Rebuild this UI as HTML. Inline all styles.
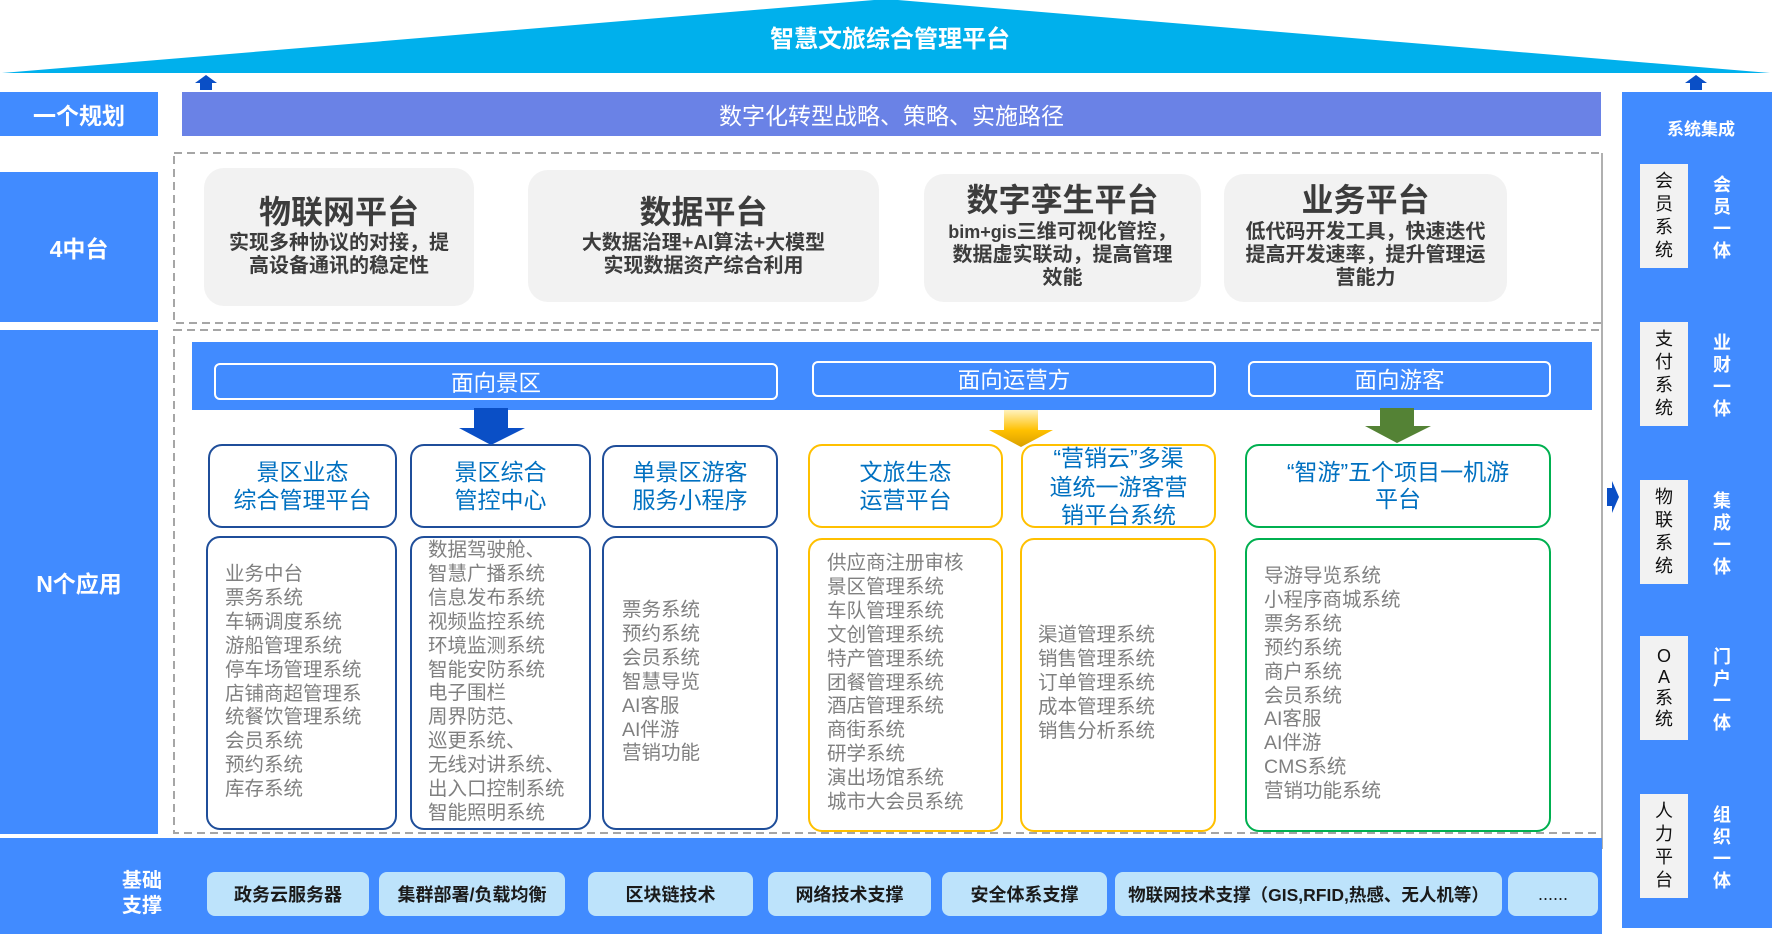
<!DOCTYPE html>
<html><head><meta charset="utf-8">
<style>
*{margin:0;padding:0;box-sizing:border-box}
body{width:1772px;height:934px;position:relative;overflow:hidden;background:#fff;font-family:"Liberation Sans","Noto Sans CJK SC",sans-serif}
.a{position:absolute}
.c{text-align:center;white-space:nowrap}
.lbl{background:#418BFF;color:#fff;font-weight:bold;font-size:23px;display:flex;align-items:center;justify-content:center}
.card{background:#F2F2F2;border-radius:20px}
.ct{color:#3C3C3C;font-weight:bold;font-size:32px;line-height:40px}
.cs{color:#3C3C3C;font-weight:bold;font-size:20px;line-height:23px}
.hb{border:2px solid #fff;border-radius:6px;color:#fff;font-size:22.5px;display:flex;align-items:center;justify-content:center}
.bx{background:#fff;border-radius:14px;border:2px solid #1F4E9A}
.by{border-color:#FFC000}
.bg{border-color:#00B050}
.tt{color:#0070C0;font-size:23px;line-height:28px;text-align:center;white-space:nowrap}
.ls{color:#808080;font-size:19.5px;line-height:23.9px;white-space:nowrap}
.btn{background:#BDE3FB;border-radius:8px;color:#1A1A1A;font-weight:bold;font-size:18px;display:flex;align-items:center;justify-content:center;white-space:nowrap;top:872px;height:44px}
.sb{background:#F2F2F2;left:1640px;width:48px;height:104px;color:#111;font-size:18px;line-height:23px;display:flex;align-items:center;justify-content:center;text-align:center}
.sw{left:1702px;width:40px;height:104px;color:#fff;font-weight:bold;font-size:18px;line-height:22px;display:flex;align-items:center;justify-content:center;text-align:center}
</style></head><body>

<svg class="a" style="left:0;top:0" width="1772" height="934">
<polygon points="2,73 886,-1 1770,73" fill="#00B0EC"/>
<rect x="174" y="153" width="1428" height="170" fill="none" stroke="#A6A6A6" stroke-width="2" stroke-dasharray="8 5"/>
<rect x="174" y="330" width="1428" height="503" fill="none" stroke="#A6A6A6" stroke-width="2" stroke-dasharray="8 5"/>
<line x1="1602" y1="153" x2="1602" y2="849" stroke="#B0B0B0" stroke-width="2"/>
</svg>

<div class="a c" style="left:690px;top:25px;width:400px;line-height:30px;color:#fff;font-weight:bold;font-size:24px">智慧文旅综合管理平台</div>

<div class="a lbl" style="left:0;top:92px;width:158px;height:44px">一个规划</div>
<div class="a lbl" style="left:0;top:172px;width:158px;height:150px">4中台</div>
<div class="a lbl" style="left:0;top:330px;width:158px;height:504px">N个应用</div>

<div class="a" style="left:182px;top:92px;width:1419px;height:44px;background:#6A82E6;color:#fff;font-size:23px;display:flex;align-items:center;justify-content:center">数字化转型战略、策略、实施路径</div>

<!-- cards -->
<div class="a card" style="left:204px;top:168px;width:270px;height:138px"></div>
<div class="a c ct" style="left:204px;top:192px;width:270px">物联网平台</div>
<div class="a c cs" style="left:204px;top:232px;width:270px">实现多种协议的对接，提<br>高设备通讯的稳定性</div>

<div class="a card" style="left:528px;top:170px;width:351px;height:132px"></div>
<div class="a c ct" style="left:528px;top:192px;width:351px">数据平台</div>
<div class="a c cs" style="left:528px;top:232px;width:351px">大数据治理+AI算法+大模型<br>实现数据资产综合利用</div>

<div class="a card" style="left:924px;top:174px;width:277px;height:128px"></div>
<div class="a c ct" style="left:924px;top:180px;width:277px">数字孪生平台</div>
<div class="a c cs" style="left:924px;top:221px;width:277px"><span style="font-size:18px">bim+gis</span>三维可视化管控，<br>数据虚实联动，提高管理<br>效能</div>

<div class="a card" style="left:1224px;top:174px;width:283px;height:128px"></div>
<div class="a c ct" style="left:1224px;top:180px;width:283px">业务平台</div>
<div class="a c cs" style="left:1224px;top:221px;width:283px">低代码开发工具，快速迭代<br>提高开发速率，提升管理运<br>营能力</div>

<!-- band -->
<div class="a" style="left:192px;top:342px;width:1400px;height:68px;background:#418BFF"></div>
<div class="a hb" style="left:214px;top:363px;width:564px;height:37px">面向景区</div>
<div class="a hb" style="left:812px;top:361px;width:404px;height:36px">面向运营方</div>
<div class="a hb" style="left:1248px;top:361px;width:303px;height:36px">面向游客</div>

<!-- title boxes -->
<div class="a bx" style="left:208px;top:444px;width:189px;height:84px"></div>
<div class="a tt" style="left:208px;top:458px;width:189px">景区业态<br>综合管理平台</div>
<div class="a bx" style="left:410px;top:444px;width:181px;height:84px"></div>
<div class="a tt" style="left:410px;top:458px;width:181px">景区综合<br>管控中心</div>
<div class="a bx" style="left:602px;top:445px;width:176px;height:83px"></div>
<div class="a tt" style="left:602px;top:458px;width:176px">单景区游客<br>服务小程序</div>
<div class="a bx by" style="left:808px;top:444px;width:195px;height:84px"></div>
<div class="a tt" style="left:808px;top:458px;width:195px">文旅生态<br>运营平台</div>
<div class="a bx by" style="left:1021px;top:444px;width:195px;height:84px"></div>
<div class="a tt" style="left:1021px;top:444px;width:195px;line-height:28.5px">“营销云”多渠<br>道统一游客营<br>销平台系统</div>
<div class="a bx bg" style="left:1245px;top:444px;width:306px;height:84px"></div>
<div class="a tt" style="left:1245px;top:459px;width:306px;line-height:27px">“智游”五个项目一机游<br>平台</div>

<!-- list boxes -->
<div class="a bx" style="left:206px;top:536px;width:191px;height:294px"></div>
<div class="a ls" style="left:225px;top:563px">业务中台<br>票务系统<br>车辆调度系统<br>游船管理系统<br>停车场管理系统<br>店铺商超管理系<br>统餐饮管理系统<br>会员系统<br>预约系统<br>库存系统</div>
<div class="a bx" style="left:410px;top:536px;width:181px;height:294px"></div>
<div class="a ls" style="left:428px;top:539px">数据驾驶舱、<br>智慧广播系统<br>信息发布系统<br>视频监控系统<br>环境监测系统<br>智能安防系统<br>电子围栏<br>周界防范、<br>巡更系统、<br>无线对讲系统、<br>出入口控制系统<br>智能照明系统</div>
<div class="a bx" style="left:602px;top:536px;width:176px;height:294px"></div>
<div class="a ls" style="left:622px;top:599px">票务系统<br>预约系统<br>会员系统<br>智慧导览<br>AI客服<br>AI伴游<br>营销功能</div>
<div class="a bx by" style="left:808px;top:538px;width:195px;height:294px"></div>
<div class="a ls" style="left:827px;top:552px">供应商注册审核<br>景区管理系统<br>车队管理系统<br>文创管理系统<br>特产管理系统<br>团餐管理系统<br>酒店管理系统<br>商街系统<br>研学系统<br>演出场馆系统<br>城市大会员系统</div>
<div class="a bx by" style="left:1020px;top:538px;width:196px;height:294px"></div>
<div class="a ls" style="left:1038px;top:624px">渠道管理系统<br>销售管理系统<br>订单管理系统<br>成本管理系统<br>销售分析系统</div>
<div class="a bx bg" style="left:1245px;top:538px;width:306px;height:294px"></div>
<div class="a ls" style="left:1264px;top:565px">导游导览系统<br>小程序商城系统<br>票务系统<br>预约系统<br>商户系统<br>会员系统<br>AI客服<br>AI伴游<br>CMS系统<br>营销功能系统</div>

<!-- bottom band -->
<div class="a" style="left:0;top:838px;width:1602px;height:96px;background:#418BFF"></div>
<div class="a c" style="left:112px;top:869px;width:60px;color:#fff;font-weight:bold;font-size:20px;line-height:25px">基础<br>支撑</div>
<div class="a btn" style="left:207px;width:162px">政务云服务器</div>
<div class="a btn" style="left:379px;width:186px">集群部署/负载均衡</div>
<div class="a btn" style="left:588px;width:165px">区块链技术</div>
<div class="a btn" style="left:768px;width:163px">网络技术支撑</div>
<div class="a btn" style="left:942px;width:165px">安全体系支撑</div>
<div class="a btn" style="left:1115px;width:387px;font-size:17.5px">物联网技术支撑（GIS,RFID,热感、无人机等）</div>
<div class="a btn" style="left:1508px;width:90px;font-weight:normal">......</div>

<!-- right panel -->
<div class="a" style="left:1622px;top:92px;width:150px;height:836px;background:#418BFF"></div>
<div class="a c" style="left:1641px;top:118px;width:120px;line-height:24px;color:#fff;font-weight:bold;font-size:17px">系统集成</div>
<div class="a sb" style="top:164px">会<br>员<br>系<br>统</div>
<div class="a sw" style="top:166px">会<br>员<br>一<br>体</div>
<div class="a sb" style="top:322px">支<br>付<br>系<br>统</div>
<div class="a sw" style="top:324px">业<br>财<br>一<br>体</div>
<div class="a sb" style="top:480px">物<br>联<br>系<br>统</div>
<div class="a sw" style="top:482px">集<br>成<br>一<br>体</div>
<div class="a sb" style="top:636px;line-height:21px">O<br>A<br>系<br>统</div>
<div class="a sw" style="top:638px">门<br>户<br>一<br>体</div>
<div class="a sb" style="top:794px">人<br>力<br>平<br>台</div>
<div class="a sw" style="top:796px">组<br>织<br>一<br>体</div>

<!-- arrows -->
<svg class="a" style="left:0;top:0" width="1772" height="934">
<defs>
<linearGradient id="yg" x1="0" y1="410" x2="0" y2="447" gradientUnits="userSpaceOnUse">
<stop offset="0" stop-color="#FFF2BF"/>
<stop offset="0.55" stop-color="#FFC000"/>
<stop offset="1" stop-color="#D9A000"/>
</linearGradient>
</defs>
<polygon points="195,83 206,75 217,83 212,83 212,90 200,90 200,83" fill="#0A4FC6"/>
<polygon points="1685,83 1696,75 1707,83 1702,83 1702,90 1690,90 1690,83" fill="#0A4FC6"/>
<polygon points="474,408 508,408 508,428 525,428 491,445 459,428 474,428" fill="#0A4FC6"/>
<polygon points="1004,410 1038,410 1038,430 1053,430 1021,447 989,430 1004,430" fill="url(#yg)"/>
<polygon points="1380,408 1414,408 1414,426 1431,426 1397,443 1365,426 1380,426" fill="#548235"/>
<polygon points="1607,488 1612,488 1612,481 1619,497 1612,513 1612,506 1607,506" fill="#0A4FC6"/>
</svg>
</body></html>
